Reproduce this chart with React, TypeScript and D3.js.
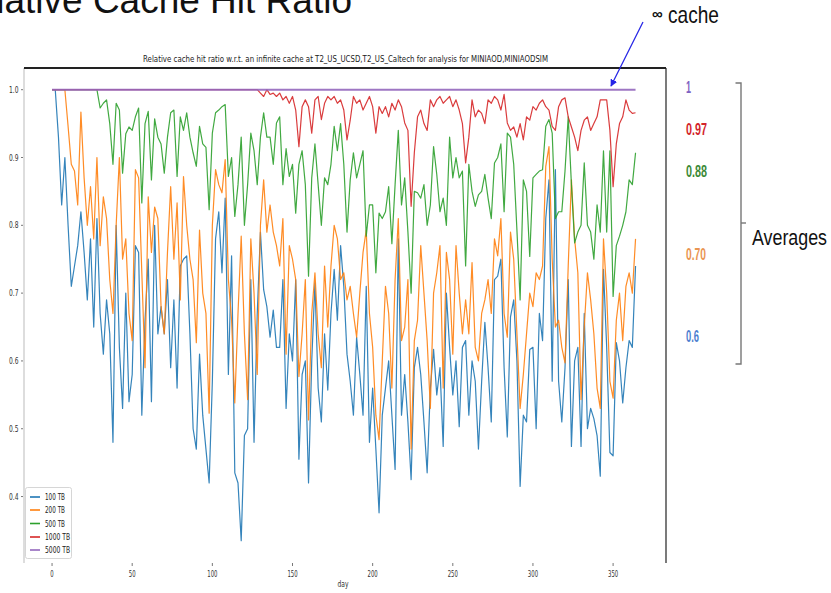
import React from "react";
import * as d3 from "d3";

const W = 831;
const H = 593;

// day index: 0,2,4,...,364
const days: number[] = d3.range(0, 365, 2);

const xTicks = [0, 50, 100, 150, 200, 250, 300, 350];
const yTicks = [0.4, 0.5, 0.6, 0.7, 0.8, 0.9, 1.0];

const seriesNames = ["100 TB", "200 TB", "500 TB", "1000 TB", "5000 TB"];
const seriesColors = ["#1f77b4", "#ff7f0e", "#2ca02c", "#d62728", "#9467bd"];

const tb100 = [
  1.0, 1.0, 0.93, 0.83, 0.90, 0.80, 0.71, 0.74, 0.77, 0.82,
  0.76, 0.69, 0.78, 0.65, 0.81, 0.67, 0.61, 0.69, 0.64, 0.48,
  0.80, 0.62, 0.53, 0.70, 0.54, 0.58, 0.77, 0.76, 0.52, 0.66,
  0.75, 0.54, 0.80, 0.64, 0.68, 0.64, 0.72, 0.59, 0.69, 0.56,
  0.74, 0.75, 0.755, 0.64, 0.50, 0.47, 0.61, 0.52, 0.47, 0.42,
  0.57, 0.78, 0.82, 0.73, 0.84, 0.58, 0.755, 0.435, 0.42, 0.335,
  0.49, 0.50, 0.72, 0.48, 0.67, 0.79, 0.705, 0.68, 0.635, 0.675,
  0.62, 0.62, 0.72, 0.53, 0.64, 0.60, 0.72, 0.455, 0.58, 0.60,
  0.42, 0.60, 0.715, 0.56, 0.51, 0.64, 0.557, 0.67, 0.735, 0.66,
  0.77, 0.71, 0.61, 0.57, 0.52, 0.635, 0.58, 0.52, 0.71, 0.48,
  0.56, 0.47, 0.376, 0.52, 0.56, 0.60, 0.52, 0.44, 0.78, 0.52,
  0.58, 0.51, 0.425, 0.59, 0.62, 0.58, 0.51, 0.435, 0.56, 0.617,
  0.55, 0.59, 0.474, 0.70, 0.62, 0.55, 0.60, 0.503, 0.62, 0.63,
  0.52, 0.60, 0.57, 0.47, 0.57, 0.657, 0.59, 0.51, 0.72, 0.725,
  0.75, 0.59, 0.488, 0.665, 0.69, 0.60, 0.415, 0.52, 0.51, 0.617,
  0.62, 0.50, 0.67, 0.63, 0.81, 0.867, 0.57, 0.882, 0.57, 0.51,
  0.59, 0.72, 0.474, 0.60, 0.62, 0.474, 0.67, 0.50, 0.53, 0.515,
  0.49, 0.43, 0.735, 0.62, 0.465, 0.46, 0.627, 0.60, 0.538, 0.59,
  0.63, 0.62, 0.74,
];

const tb200 = [
  1.0, 1.0, 1.0, 1.0, 1.0, 0.946, 0.89, 0.88, 0.83, 0.967,
  0.87, 0.80, 0.857, 0.78, 0.90, 0.77, 0.842, 0.81, 0.72, 0.67,
  0.80, 0.90, 0.75, 0.78, 0.67, 0.63, 0.882, 0.87, 0.73, 0.59,
  0.842, 0.76, 0.827, 0.81, 0.68, 0.64, 0.76, 0.857, 0.75, 0.833,
  0.69, 0.872, 0.80, 0.75, 0.72, 0.627, 0.793, 0.70, 0.67, 0.523,
  0.80, 0.882, 0.86, 0.848, 0.897, 0.72, 0.66, 0.538, 0.67, 0.784,
  0.64, 0.543, 0.78, 0.70, 0.58, 0.80, 0.867, 0.79, 0.83, 0.79,
  0.77, 0.74, 0.81, 0.61, 0.77, 0.75, 0.72, 0.577, 0.64, 0.72,
  0.513, 0.67, 0.73, 0.64, 0.59, 0.74, 0.65, 0.74, 0.80, 0.78,
  0.72, 0.73, 0.69, 0.71, 0.67, 0.635, 0.70, 0.76, 0.793, 0.67,
  0.62, 0.52, 0.484, 0.60, 0.71, 0.67, 0.56, 0.72, 0.81, 0.63,
  0.65, 0.72, 0.47, 0.63, 0.66, 0.77, 0.70, 0.63, 0.53, 0.70,
  0.73, 0.77, 0.56, 0.76, 0.72, 0.61, 0.77, 0.70, 0.64, 0.69,
  0.64, 0.745, 0.62, 0.60, 0.67, 0.69, 0.72, 0.67, 0.78, 0.755,
  0.81, 0.67, 0.635, 0.79, 0.75, 0.64, 0.53, 0.58, 0.64, 0.70,
  0.68, 0.73, 0.72, 0.74, 0.887, 0.916, 0.75, 0.65, 0.66, 0.62,
  0.597, 0.74, 0.867, 0.78, 0.73, 0.543, 0.65, 0.73, 0.69, 0.64,
  0.56, 0.53, 0.78, 0.70, 0.57, 0.545, 0.66, 0.70, 0.63, 0.71,
  0.73, 0.70, 0.78,
];

const tb500 = [
  1.0, 1.0, 1.0, 1.0, 1.0, 1.0, 1.0, 1.0, 1.0, 1.0,
  1.0, 1.0, 1.0, 1.0, 1.0, 0.973, 0.98, 0.985, 0.95, 0.89,
  0.98, 0.97, 0.877, 0.935, 0.945, 0.94, 0.96, 0.973, 0.833, 0.95,
  0.968, 0.867, 0.957, 0.93, 0.92, 0.877, 0.93, 0.966, 0.97, 0.872,
  0.96, 0.94, 0.966, 0.93, 0.907, 0.887, 0.946, 0.92, 0.915, 0.823,
  0.936, 0.966, 0.97, 0.975, 0.978, 0.872, 0.90, 0.813, 0.86, 0.93,
  0.80, 0.86, 0.936, 0.91, 0.86, 0.93, 0.966, 0.93, 0.93, 0.89,
  0.951, 0.96, 0.86, 0.913, 0.872, 0.89, 0.818, 0.89, 0.91, 0.86,
  0.725, 0.87, 0.92, 0.86, 0.80, 0.87, 0.86, 0.89, 0.946, 0.91,
  0.95, 0.89, 0.79, 0.867, 0.907, 0.87, 0.89, 0.91, 0.784, 0.83,
  0.83, 0.73, 0.818, 0.81, 0.82, 0.857, 0.773, 0.86, 0.94, 0.83,
  0.87, 0.79, 0.70, 0.85, 0.848, 0.84, 0.86, 0.80, 0.83, 0.916,
  0.875, 0.82, 0.84, 0.80, 0.93, 0.87, 0.90, 0.87, 0.88, 0.74,
  0.89, 0.85, 0.828, 0.845, 0.85, 0.875, 0.84, 0.81, 0.892, 0.90,
  0.92, 0.82, 0.936, 0.93, 0.89, 0.793, 0.69, 0.867, 0.85, 0.754,
  0.87, 0.875, 0.88, 0.882, 0.946, 0.956, 0.936, 0.81, 0.82, 0.82,
  0.88, 0.96, 0.86, 0.774, 0.79, 0.80, 0.892, 0.80, 0.79, 0.75,
  0.83, 0.79, 0.91, 0.79, 0.91, 0.695, 0.77, 0.784, 0.80, 0.82,
  0.867, 0.86, 0.907,
];

const tb1000 = [
  1.0, 1.0, 1.0, 1.0, 1.0, 1.0, 1.0, 1.0, 1.0, 1.0,
  1.0, 1.0, 1.0, 1.0, 1.0, 1.0, 1.0, 1.0, 1.0, 1.0,
  1.0, 1.0, 1.0, 1.0, 1.0, 1.0, 1.0, 1.0, 1.0, 1.0,
  1.0, 1.0, 1.0, 1.0, 1.0, 1.0, 1.0, 1.0, 1.0, 1.0,
  1.0, 1.0, 1.0, 1.0, 1.0, 1.0, 1.0, 1.0, 1.0, 1.0,
  1.0, 1.0, 1.0, 1.0, 1.0, 1.0, 1.0, 1.0, 1.0, 1.0,
  1.0, 1.0, 1.0, 1.0, 1.0, 0.995, 0.99, 1.0, 0.993, 0.995,
  0.99, 0.995, 0.985, 0.99, 0.98, 0.99, 0.97, 0.916, 0.975, 0.985,
  0.975, 0.936, 0.985, 0.99, 0.956, 0.98, 0.99, 0.985, 0.99, 0.98,
  0.985, 0.97, 0.926, 0.955, 0.99, 0.98, 0.985, 0.97, 0.98, 0.99,
  0.975, 0.936, 0.975, 0.965, 0.975, 0.96, 0.98, 0.97, 0.985, 0.975,
  0.951, 0.94, 0.828, 0.907, 0.96, 0.97, 0.95, 0.94, 0.985, 0.975,
  0.985, 0.99, 0.98, 0.985, 0.99, 0.975, 0.985, 0.97, 0.95, 0.892,
  0.93, 0.985, 0.96, 0.97, 0.965, 0.95, 0.985, 0.98, 0.99, 0.985,
  0.97, 0.993, 0.951, 0.94, 0.945, 0.93, 0.95, 0.926, 0.96, 0.955,
  0.975, 0.97, 0.98, 0.985, 0.975, 0.97, 0.946, 0.94, 0.975, 0.985,
  0.988, 0.96, 0.945, 0.93, 0.91, 0.94, 0.955, 0.96, 0.94, 0.95,
  0.96, 0.985, 0.985, 0.985, 0.94, 0.857, 0.92, 0.95, 0.96, 0.985,
  0.97, 0.965, 0.966,
];

const tb5000 = [
  1, 1, 1, 1, 1, 1, 1, 1, 1, 1,
  1, 1, 1, 1, 1, 1, 1, 1, 1, 1,
  1, 1, 1, 1, 1, 1, 1, 1, 1, 1,
  1, 1, 1, 1, 1, 1, 1, 1, 1, 1,
  1, 1, 1, 1, 1, 1, 1, 1, 1, 1,
  1, 1, 1, 1, 1, 1, 1, 1, 1, 1,
  1, 1, 1, 1, 1, 1, 1, 1, 1, 1,
  1, 1, 1, 1, 1, 1, 1, 1, 1, 1,
  1, 1, 1, 1, 1, 1, 1, 1, 1, 1,
  1, 1, 1, 1, 1, 1, 1, 1, 1, 1,
  1, 1, 1, 1, 1, 1, 1, 1, 1, 1,
  1, 1, 1, 1, 1, 1, 1, 1, 1, 1,
  1, 1, 1, 1, 1, 1, 1, 1, 1, 1,
  1, 1, 1, 1, 1, 1, 1, 1, 1, 1,
  1, 1, 1, 1, 1, 1, 1, 1, 1, 1,
  1, 1, 1, 1, 1, 1, 1, 1, 1, 1,
  1, 1, 1, 1, 1, 1, 1, 1, 1, 1,
  1, 1, 1, 1, 1, 1, 1, 1, 1, 1,
  1, 1, 1,
];

const averageLabels = ["1", "0.97", "0.88", "0.70", "0.6"];
const averageColors = ["#7f62c2", "#d3242b", "#3d8a37", "#ea9552", "#4d7fcf"];

const allSeries = [tb100, tb200, tb500, tb1000, tb5000];

export default function App() {
  const left = 24, right = 666, top = 68, bottom = 563;
  const x = d3.scaleLinear().domain([-17.5, 383]).range([left, right]);
  const y = d3.scaleLinear().domain([0.302, 1.032]).range([bottom, top]);
  const line = d3
    .line<number>()
    .x((_, i) => x(days[i]))
    .y((v) => y(v));

  const smallFont = "'DejaVu Sans', sans-serif";
  const narrow = "'Liberation Sans Narrow', 'Liberation Sans', Arial, sans-serif";

  const avgY = [93, 135, 177, 260, 342];
  const avgW = [5, 21, 21, 20, 13];
  const legendY = [497, 510, 523.5, 537, 550];
  const legendW = [20, 20, 20, 25, 25];

  return (
    <svg
      width={W}
      height={H}
      viewBox={`0 0 ${W} ${H}`}
      style={{ position: "absolute", left: 0, top: 0, background: "#fff" }}
    >
      <defs>
        <clipPath id="plotClip">
          <rect x={left} y={top} width={right - left} height={bottom - top} />
        </clipPath>
        <marker
          id="arrowHead"
          viewBox="0 0 10 10"
          refX="9"
          refY="5"
          markerWidth="6"
          markerHeight="6"
          orient="auto"
        >
          <path d="M0,0 L10,5 L0,10 z" fill="#2424e6" />
        </marker>
      </defs>

      {/* slide title (cut off at left and top, as in the slide) */}
      <text
        x={352}
        y={13}
        textAnchor="end"
        fontFamily="'Liberation Sans', Arial, sans-serif"
        fontSize={37}
        fill="#111"
      >
        Relative Cache Hit Ratio
      </text>

      {/* chart title */}
      <text
        x={345.5}
        y={62}
        textAnchor="middle"
        fontFamily={smallFont}
        fontSize={8}
        fill="#222"
        textLength={405}
        lengthAdjust="spacingAndGlyphs"
      >
        Relative cache hit ratio w.r.t. an infinite cache at T2_US_UCSD,T2_US_Caltech for analysis for MINIAOD,MINIAODSIM
      </text>

      {/* frame */}
      <line x1={left} y1={top} x2={left} y2={bottom} stroke="#bbb" strokeWidth={1} />
      <line x1={left} y1={top} x2={right} y2={top} stroke="#222" strokeWidth={2} />
      <line x1={right} y1={top} x2={right} y2={bottom} stroke="#222" strokeWidth={1.2} />

      {/* y ticks */}
      {yTicks.map((t) => (
        <g key={"y" + t}>
          <line x1={left - 3} x2={left - 1} y1={y(t)} y2={y(t)} stroke="#555" strokeWidth={0.8} />
          <text
            x={18.5}
            y={y(t) + 3}
            textAnchor="end"
            fontFamily={smallFont}
            fontSize={8.5}
            fill="#333"
            textLength={9.5}
            lengthAdjust="spacingAndGlyphs"
          >
            {t.toFixed(1)}
          </text>
        </g>
      ))}

      {/* x ticks */}
      {xTicks.map((t) => (
        <g key={"x" + t}>
          <line x1={x(t)} x2={x(t)} y1={bottom} y2={bottom + 3} stroke="#555" strokeWidth={0.8} />
          <text
            x={x(t)}
            y={577}
            textAnchor="middle"
            fontFamily={smallFont}
            fontSize={8.5}
            fill="#333"
            textLength={String(t).length * 3.4}
            lengthAdjust="spacingAndGlyphs"
          >
            {t}
          </text>
        </g>
      ))}
      <text
        x={343}
        y={587}
        textAnchor="middle"
        fontFamily={smallFont}
        fontSize={8.5}
        fill="#333"
        textLength={11}
        lengthAdjust="spacingAndGlyphs"
      >
        day
      </text>

      {/* series */}
      <g clipPath="url(#plotClip)">
        {allSeries.map((s, k) => (
          <path
            key={seriesNames[k]}
            d={line(s) || ""}
            fill="none"
            stroke={seriesColors[k]}
            strokeWidth={k === 4 ? 2 : 1.2}
            strokeLinejoin="round"
            opacity={0.9}
          />
        ))}
      </g>

      {/* legend */}
      <rect x={25.5} y={487.5} width={46} height={71} rx={2} fill="#fff" fillOpacity={0.85} stroke="#ccc" strokeWidth={0.8} />
      {seriesNames.map((n, k) => (
        <g key={"lg" + n}>
          <line x1={30} x2={40} y1={legendY[k]} y2={legendY[k]} stroke={seriesColors[k]} strokeWidth={1.6} />
          <text
            x={45}
            y={legendY[k] + 3}
            fontFamily={smallFont}
            fontSize={8.5}
            fill="#222"
            textLength={legendW[k]}
            lengthAdjust="spacingAndGlyphs"
          >
            {n}
          </text>
        </g>
      ))}

      {/* infinite cache annotation */}
      <text x={652} y={19} fontFamily={narrow} fontSize={15} fontWeight="bold" fill="#111">∞</text>
      <text
        x={668}
        y={23}
        fontFamily={narrow}
        fontSize={24}
        fill="#111"
        textLength={51}
        lengthAdjust="spacingAndGlyphs"
      >
        cache
      </text>
      <line x1={643} y1={22} x2={611} y2={86} stroke="#2424e6" strokeWidth={1.2} markerEnd="url(#arrowHead)" />

      {/* averages */}
      {averageLabels.map((a, k) => (
        <text
          key={"avg" + k}
          x={686}
          y={avgY[k]}
          fontFamily={narrow}
          fontWeight="bold"
          fontSize={16}
          fill={averageColors[k]}
          textLength={avgW[k]}
          lengthAdjust="spacingAndGlyphs"
        >
          {a}
        </text>
      ))}

      {/* bracket */}
      <path d="M735.5,83 L741,83 L741,364 L735.5,364" fill="none" stroke="#777" strokeWidth={1.4} />
      <line x1={741} x2={746} y1={223} y2={223} stroke="#777" strokeWidth={1.4} />
      <text
        x={752}
        y={245}
        fontFamily={narrow}
        fontSize={22}
        fill="#111"
        textLength={75}
        lengthAdjust="spacingAndGlyphs"
      >
        Averages
      </text>
    </svg>
  );
}
